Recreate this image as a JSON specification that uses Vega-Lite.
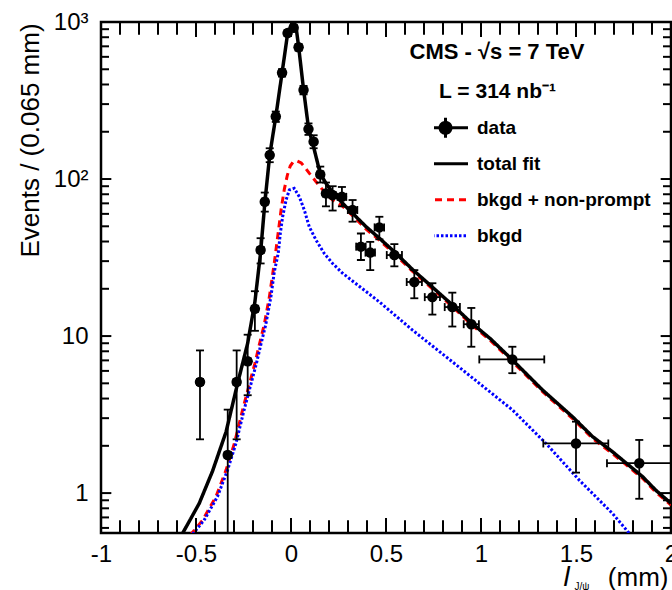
{
  "$schema": "https://vega.github.io/schema/vega-lite/v6.json",
  "width": 570,
  "height": 511,
  "autosize": "none",
  "padding": {"left": 101, "top": 22, "right": 1, "bottom": 57},
  "background": "white",
  "config": {
    "view": {"stroke": "black", "strokeWidth": 2.5},
    "axis": {"domain": false, "grid": false, "ticks": false, "labelFont": "Liberation Sans", "labelFontSize": 24, "labelColor": "black", "titleFont": "Liberation Sans", "titleFontWeight": "normal", "titleColor": "black", "labelFlush": false, "labelOverlap": false, "labelBound": false},
    "legend": {"orient": "none", "legendX": 333, "legendY": 88, "padding": 0, "labelFont": "Liberation Sans", "labelFontSize": 19, "labelFontWeight": "bold", "labelColor": "black", "labelLimit": 400, "symbolSize": 400, "symbolStrokeWidth": 3, "labelOffset": 20, "rowPadding": 0, "clipHeight": 35.7}
  },
  "datasets": {
    "xticks": [
      {"pos": -1, "kind": "xmajor"}, {"pos": -0.9, "kind": "xminor"}, {"pos": -0.8, "kind": "xminor"}, {"pos": -0.7, "kind": "xminor"}, {"pos": -0.6, "kind": "xminor"},
      {"pos": -0.5, "kind": "xmajor"}, {"pos": -0.4, "kind": "xminor"}, {"pos": -0.3, "kind": "xminor"}, {"pos": -0.2, "kind": "xminor"}, {"pos": -0.1, "kind": "xminor"},
      {"pos": 0, "kind": "xmajor"}, {"pos": 0.1, "kind": "xminor"}, {"pos": 0.2, "kind": "xminor"}, {"pos": 0.3, "kind": "xminor"}, {"pos": 0.4, "kind": "xminor"},
      {"pos": 0.5, "kind": "xmajor"}, {"pos": 0.6, "kind": "xminor"}, {"pos": 0.7, "kind": "xminor"}, {"pos": 0.8, "kind": "xminor"}, {"pos": 0.9, "kind": "xminor"},
      {"pos": 1, "kind": "xmajor"}, {"pos": 1.1, "kind": "xminor"}, {"pos": 1.2, "kind": "xminor"}, {"pos": 1.3, "kind": "xminor"}, {"pos": 1.4, "kind": "xminor"},
      {"pos": 1.5, "kind": "xmajor"}, {"pos": 1.6, "kind": "xminor"}, {"pos": 1.7, "kind": "xminor"}, {"pos": 1.8, "kind": "xminor"}, {"pos": 1.9, "kind": "xminor"},
      {"pos": 2, "kind": "xmajor"}
    ],
    "yticks": [
      {"pos": 0.6, "kind": "yminor"}, {"pos": 0.7, "kind": "yminor"}, {"pos": 0.8, "kind": "yminor"}, {"pos": 0.9, "kind": "yminor"},
      {"pos": 1, "kind": "ymajor"},
      {"pos": 2, "kind": "yminor"}, {"pos": 3, "kind": "yminor"}, {"pos": 4, "kind": "yminor"}, {"pos": 5, "kind": "yminor"}, {"pos": 6, "kind": "yminor"}, {"pos": 7, "kind": "yminor"}, {"pos": 8, "kind": "yminor"}, {"pos": 9, "kind": "yminor"},
      {"pos": 10, "kind": "ymajor"},
      {"pos": 20, "kind": "yminor"}, {"pos": 30, "kind": "yminor"}, {"pos": 40, "kind": "yminor"}, {"pos": 50, "kind": "yminor"}, {"pos": 60, "kind": "yminor"}, {"pos": 70, "kind": "yminor"}, {"pos": 80, "kind": "yminor"}, {"pos": 90, "kind": "yminor"},
      {"pos": 100, "kind": "ymajor"},
      {"pos": 200, "kind": "yminor"}, {"pos": 300, "kind": "yminor"}, {"pos": 400, "kind": "yminor"}, {"pos": 500, "kind": "yminor"}, {"pos": 600, "kind": "yminor"}, {"pos": 700, "kind": "yminor"}, {"pos": 800, "kind": "yminor"}, {"pos": 900, "kind": "yminor"},
      {"pos": 1000, "kind": "ymajor"}
    ],
    "curves": [
      {"series": "bkgd + non-prompt", "x": -0.56, "y": 0.46},
      {"series": "bkgd + non-prompt", "x": -0.53, "y": 0.54},
      {"series": "bkgd + non-prompt", "x": -0.466, "y": 0.67},
      {"series": "bkgd + non-prompt", "x": -0.395, "y": 0.95},
      {"series": "bkgd + non-prompt", "x": -0.342, "y": 1.4},
      {"series": "bkgd + non-prompt", "x": -0.298, "y": 2.07},
      {"series": "bkgd + non-prompt", "x": -0.255, "y": 3.38},
      {"series": "bkgd + non-prompt", "x": -0.19, "y": 6.7},
      {"series": "bkgd + non-prompt", "x": -0.165, "y": 9.0},
      {"series": "bkgd + non-prompt", "x": -0.141, "y": 11.8},
      {"series": "bkgd + non-prompt", "x": -0.114, "y": 17.7},
      {"series": "bkgd + non-prompt", "x": -0.088, "y": 29.2},
      {"series": "bkgd + non-prompt", "x": -0.067, "y": 45.9},
      {"series": "bkgd + non-prompt", "x": -0.051, "y": 65.3},
      {"series": "bkgd + non-prompt", "x": -0.035, "y": 86.3},
      {"series": "bkgd + non-prompt", "x": -0.019, "y": 106},
      {"series": "bkgd + non-prompt", "x": -0.004, "y": 121},
      {"series": "bkgd + non-prompt", "x": 0.012, "y": 129},
      {"series": "bkgd + non-prompt", "x": 0.033, "y": 130},
      {"series": "bkgd + non-prompt", "x": 0.054, "y": 126.5},
      {"series": "bkgd + non-prompt", "x": 0.075, "y": 118},
      {"series": "bkgd + non-prompt", "x": 0.096, "y": 109},
      {"series": "bkgd + non-prompt", "x": 0.132, "y": 96},
      {"series": "bkgd + non-prompt", "x": 0.175, "y": 83},
      {"series": "bkgd + non-prompt", "x": 0.219, "y": 73.5},
      {"series": "bkgd + non-prompt", "x": 0.272, "y": 67},
      {"series": "bkgd + non-prompt", "x": 0.324, "y": 58.5},
      {"series": "bkgd + non-prompt", "x": 0.395, "y": 48},
      {"series": "bkgd + non-prompt", "x": 0.465, "y": 40.8},
      {"series": "bkgd + non-prompt", "x": 0.544, "y": 33.4},
      {"series": "bkgd + non-prompt", "x": 0.64, "y": 25.8},
      {"series": "bkgd + non-prompt", "x": 0.744, "y": 20},
      {"series": "bkgd + non-prompt", "x": 0.849, "y": 15.4},
      {"series": "bkgd + non-prompt", "x": 0.947, "y": 11.9},
      {"series": "bkgd + non-prompt", "x": 1.05, "y": 9.35},
      {"series": "bkgd + non-prompt", "x": 1.166, "y": 6.85},
      {"series": "bkgd + non-prompt", "x": 1.324, "y": 4.42},
      {"series": "bkgd + non-prompt", "x": 1.482, "y": 2.98},
      {"series": "bkgd + non-prompt", "x": 1.587, "y": 2.23},
      {"series": "bkgd + non-prompt", "x": 1.693, "y": 1.78},
      {"series": "bkgd + non-prompt", "x": 1.851, "y": 1.24},
      {"series": "bkgd + non-prompt", "x": 1.921, "y": 1.01},
      {"series": "bkgd + non-prompt", "x": 2.0, "y": 0.84},
      {"series": "bkgd", "x": -0.552, "y": 0.46},
      {"series": "bkgd", "x": -0.522, "y": 0.54},
      {"series": "bkgd", "x": -0.458, "y": 0.67},
      {"series": "bkgd", "x": -0.387, "y": 0.95},
      {"series": "bkgd", "x": -0.334, "y": 1.4},
      {"series": "bkgd", "x": -0.29, "y": 2.07},
      {"series": "bkgd", "x": -0.247, "y": 3.38},
      {"series": "bkgd", "x": -0.182, "y": 6.7},
      {"series": "bkgd", "x": -0.157, "y": 9.0},
      {"series": "bkgd", "x": -0.133, "y": 11.8},
      {"series": "bkgd", "x": -0.106, "y": 17.7},
      {"series": "bkgd", "x": -0.088, "y": 25.6},
      {"series": "bkgd", "x": -0.067, "y": 33.8},
      {"series": "bkgd", "x": -0.056, "y": 45.3},
      {"series": "bkgd", "x": -0.044, "y": 57.5},
      {"series": "bkgd", "x": -0.026, "y": 73.5},
      {"series": "bkgd", "x": -0.009, "y": 85.1},
      {"series": "bkgd", "x": 0.017, "y": 87.3},
      {"series": "bkgd", "x": 0.044, "y": 77},
      {"series": "bkgd", "x": 0.07, "y": 63.5},
      {"series": "bkgd", "x": 0.096, "y": 49.7},
      {"series": "bkgd", "x": 0.132, "y": 40.8},
      {"series": "bkgd", "x": 0.175, "y": 33.6},
      {"series": "bkgd", "x": 0.219, "y": 29},
      {"series": "bkgd", "x": 0.272, "y": 25.1},
      {"series": "bkgd", "x": 0.316, "y": 22.8},
      {"series": "bkgd", "x": 0.465, "y": 16.5},
      {"series": "bkgd", "x": 0.64, "y": 10.9},
      {"series": "bkgd", "x": 0.816, "y": 7.38},
      {"series": "bkgd", "x": 0.991, "y": 5.0},
      {"series": "bkgd", "x": 1.166, "y": 3.38},
      {"series": "bkgd", "x": 1.342, "y": 2.07},
      {"series": "bkgd", "x": 1.517, "y": 1.21},
      {"series": "bkgd", "x": 1.693, "y": 0.74},
      {"series": "bkgd", "x": 1.781, "y": 0.553},
      {"series": "bkgd", "x": 1.82, "y": 0.48},
      {"series": "total fit", "x": -0.6, "y": 0.48},
      {"series": "total fit", "x": -0.571, "y": 0.553},
      {"series": "total fit", "x": -0.483, "y": 0.86},
      {"series": "total fit", "x": -0.413, "y": 1.38},
      {"series": "total fit", "x": -0.342, "y": 2.45},
      {"series": "total fit", "x": -0.281, "y": 5.0},
      {"series": "total fit", "x": -0.228, "y": 9.0},
      {"series": "total fit", "x": -0.19, "y": 16.5},
      {"series": "total fit", "x": -0.16, "y": 34},
      {"series": "total fit", "x": -0.138, "y": 70},
      {"series": "total fit", "x": -0.112, "y": 142},
      {"series": "total fit", "x": -0.08, "y": 250},
      {"series": "total fit", "x": -0.047, "y": 475},
      {"series": "total fit", "x": -0.018, "y": 840},
      {"series": "total fit", "x": 0.003, "y": 960},
      {"series": "total fit", "x": 0.014, "y": 985},
      {"series": "total fit", "x": 0.028, "y": 900},
      {"series": "total fit", "x": 0.04, "y": 700},
      {"series": "total fit", "x": 0.066, "y": 372},
      {"series": "total fit", "x": 0.092, "y": 212},
      {"series": "total fit", "x": 0.123, "y": 153},
      {"series": "total fit", "x": 0.154, "y": 108},
      {"series": "total fit", "x": 0.184, "y": 94},
      {"series": "total fit", "x": 0.219, "y": 82},
      {"series": "total fit", "x": 0.272, "y": 70},
      {"series": "total fit", "x": 0.324, "y": 60.5},
      {"series": "total fit", "x": 0.395, "y": 49.7},
      {"series": "total fit", "x": 0.465, "y": 42},
      {"series": "total fit", "x": 0.544, "y": 34.4},
      {"series": "total fit", "x": 0.64, "y": 26.5},
      {"series": "total fit", "x": 0.744, "y": 20.5},
      {"series": "total fit", "x": 0.849, "y": 15.8},
      {"series": "total fit", "x": 0.947, "y": 12.2},
      {"series": "total fit", "x": 1.05, "y": 9.6},
      {"series": "total fit", "x": 1.166, "y": 7.03},
      {"series": "total fit", "x": 1.324, "y": 4.53},
      {"series": "total fit", "x": 1.482, "y": 3.06},
      {"series": "total fit", "x": 1.587, "y": 2.29},
      {"series": "total fit", "x": 1.693, "y": 1.83},
      {"series": "total fit", "x": 1.851, "y": 1.27},
      {"series": "total fit", "x": 1.921, "y": 1.04},
      {"series": "total fit", "x": 2.0, "y": 0.86}
    ],
    "points": [
      {"x": -0.479, "y": 5.1, "ylo": 2.2, "yhi": 8.1, "xlo": -0.495, "xhi": -0.463},
      {"x": -0.333, "y": 1.75, "ylo": 0.3, "yhi": 3.4, "xlo": -0.349, "xhi": -0.317},
      {"x": -0.286, "y": 5.1, "ylo": 2.2, "yhi": 8.1, "xlo": -0.302, "xhi": -0.27},
      {"x": -0.228, "y": 6.9, "ylo": 4.2, "yhi": 10.2, "xlo": -0.244, "xhi": -0.212},
      {"x": -0.19, "y": 14.9, "ylo": 10.8, "yhi": 19.3, "xlo": -0.206, "xhi": -0.174},
      {"x": -0.16, "y": 35.3, "ylo": 29, "yhi": 42, "xlo": -0.176, "xhi": -0.144},
      {"x": -0.138, "y": 71.7, "ylo": 62, "yhi": 82, "xlo": -0.152, "xhi": -0.124},
      {"x": -0.112, "y": 142, "ylo": 128, "yhi": 157, "xlo": -0.126, "xhi": -0.098},
      {"x": -0.08, "y": 250, "ylo": 231, "yhi": 269, "xlo": -0.094, "xhi": -0.066},
      {"x": -0.047, "y": 475, "ylo": 449, "yhi": 501, "xlo": -0.061, "xhi": -0.033},
      {"x": -0.018, "y": 850, "ylo": 815, "yhi": 885, "xlo": -0.032, "xhi": -0.004},
      {"x": 0.014, "y": 920, "ylo": 884, "yhi": 956, "xlo": 0.0, "xhi": 0.028},
      {"x": 0.04, "y": 690, "ylo": 658, "yhi": 722, "xlo": 0.026, "xhi": 0.054},
      {"x": 0.066, "y": 369, "ylo": 346, "yhi": 392, "xlo": 0.052, "xhi": 0.08},
      {"x": 0.092, "y": 208, "ylo": 191, "yhi": 226, "xlo": 0.078, "xhi": 0.106},
      {"x": 0.119, "y": 173, "ylo": 157, "yhi": 190, "xlo": 0.105, "xhi": 0.133},
      {"x": 0.154, "y": 107, "ylo": 95, "yhi": 120, "xlo": 0.138, "xhi": 0.17},
      {"x": 0.184, "y": 81, "ylo": 67, "yhi": 95, "xlo": 0.168, "xhi": 0.2},
      {"x": 0.219, "y": 79, "ylo": 63, "yhi": 90, "xlo": 0.203, "xhi": 0.235},
      {"x": 0.268, "y": 77, "ylo": 67, "yhi": 89, "xlo": 0.245, "xhi": 0.291},
      {"x": 0.324, "y": 63.5, "ylo": 53.5, "yhi": 73.5, "xlo": 0.299, "xhi": 0.349},
      {"x": 0.368, "y": 37.1, "ylo": 30.5, "yhi": 45, "xlo": 0.343, "xhi": 0.393},
      {"x": 0.417, "y": 34, "ylo": 26.3, "yhi": 39.8, "xlo": 0.392, "xhi": 0.442},
      {"x": 0.465, "y": 49.2, "ylo": 41.3, "yhi": 57.5, "xlo": 0.44, "xhi": 0.49},
      {"x": 0.544, "y": 32.8, "ylo": 27.8, "yhi": 38.5, "xlo": 0.504, "xhi": 0.584},
      {"x": 0.649, "y": 22.1, "ylo": 17.4, "yhi": 26.3, "xlo": 0.609, "xhi": 0.689},
      {"x": 0.744, "y": 17.7, "ylo": 13.7, "yhi": 21.7, "xlo": 0.704, "xhi": 0.784},
      {"x": 0.849, "y": 15.3, "ylo": 11.5, "yhi": 18.9, "xlo": 0.809, "xhi": 0.889},
      {"x": 0.949, "y": 11.9, "ylo": 8.55, "yhi": 15.1, "xlo": 0.909, "xhi": 0.989},
      {"x": 1.165, "y": 7.1, "ylo": 5.8, "yhi": 8.55, "xlo": 0.991, "xhi": 1.333},
      {"x": 1.5, "y": 2.07, "ylo": 1.35, "yhi": 2.85, "xlo": 1.328, "xhi": 1.67},
      {"x": 1.833, "y": 1.55, "ylo": 0.92, "yhi": 2.18, "xlo": 1.663, "xhi": 2.1}
    ]
  },
  "resolve": {"axis": {"x": "independent", "y": "independent"}},
  "layer": [
    {
      "data": {"name": "curves"},
      "transform": [{"filter": "datum.series !== 'total fit'"}],
      "mark": {"type": "line", "strokeWidth": 3, "clip": true},
      "encoding": {
        "x": {"field": "x", "type": "quantitative", "scale": {"type": "linear", "domain": [-1, 2], "nice": false, "zero": false},
          "axis": {"orient": "bottom", "values": [-1, -0.5, 0, 0.5, 1, 1.5, 2], "ticks": false, "labelPadding": 9, "labelExpr": "'' + datum.value", "title": "(mm)", "titleX": 567, "titleY": 52, "titleAlign": "right", "titleBaseline": "alphabetic", "titleAngle": 0, "titleFontSize": 26}},
        "y": {"field": "y", "type": "quantitative", "scale": {"type": "log", "domain": [0.557, 1000], "nice": false},
          "axis": {"orient": "left", "values": [1, 10, 100, 1000], "ticks": false, "labelPadding": 13, "labelExpr": "datum.value >= 1000 ? '10³' : datum.value >= 100 ? '10²' : datum.value >= 10 ? '10' : '1'", "title": "Events / (0.065 mm)", "titleX": -71, "titleY": 118, "titleAlign": "center", "titleBaseline": "middle", "titleAngle": -90, "titleFontSize": 26}},
        "color": {"field": "series", "type": "nominal",
          "scale": {"domain": ["data", "total fit", "bkgd + non-prompt", "bkgd"], "range": ["black", "black", "#ff0000", "#0000ff"]},
          "legend": {"title": null}},
        "strokeDash": {"field": "series", "type": "nominal",
          "scale": {"domain": ["data", "total fit", "bkgd + non-prompt", "bkgd"], "range": [[1, 0], [1, 0], [7, 5], [2.5, 2]]},
          "legend": {"title": null}}
      }
    },
    {
      "data": {"name": "curves"},
      "transform": [{"filter": "datum.series === 'total fit'"}],
      "mark": {"type": "line", "strokeWidth": 3.5, "clip": true},
      "encoding": {
        "x": {"field": "x", "type": "quantitative", "scale": {"type": "linear", "domain": [-1, 2], "nice": false, "zero": false},
          "axis": {"orient": "bottom", "values": [0], "ticks": false, "labels": false, "title": "l", "titleX": 462, "titleY": 52, "titleFontStyle": "italic", "titleFontSize": 28, "titleAlign": "left", "titleBaseline": "alphabetic", "titleAngle": 0}},
        "y": {"field": "y", "type": "quantitative", "scale": {"type": "log", "domain": [0.557, 1000], "nice": false}, "axis": null},
        "color": {"field": "series", "type": "nominal", "scale": {"domain": ["data", "total fit", "bkgd + non-prompt", "bkgd"], "range": ["black", "black", "#ff0000", "#0000ff"]}, "legend": {"title": null}},
        "strokeDash": {"field": "series", "type": "nominal", "scale": {"domain": ["data", "total fit", "bkgd + non-prompt", "bkgd"], "range": [[1, 0], [1, 0], [7, 5], [2.5, 2]]}, "legend": {"title": null}}
      }
    },
    {
      "data": {"values": []},
      "mark": {"type": "point", "filled": true, "opacity": 1, "strokeWidth": 3},
      "encoding": {
        "color": {"field": "series", "type": "nominal", "scale": {"domain": ["data", "total fit", "bkgd + non-prompt", "bkgd"], "range": ["black", "black", "#ff0000", "#0000ff"]}, "legend": {"title": null}},
        "shape": {"field": "series", "type": "nominal", "scale": {"domain": ["data", "total fit", "bkgd + non-prompt", "bkgd"], "range": ["M-2.25,0H2.25M0,-1V1M0.55,0A0.55,0.55,0,1,1,-0.55,0A0.55,0.55,0,1,1,0.55,0Z", "M-2.25,0H2.25", "M-2.25,0H2.25", "M-2.25,0H2.25"]}, "legend": {"title": null}}
      }
    },
    {
      "data": {"name": "xticks"},
      "mark": {"type": "tick", "orient": "vertical", "thickness": 2, "color": "black", "opacity": 1, "clip": true},
      "encoding": {
        "x": {"field": "pos", "type": "quantitative", "scale": {"type": "linear", "domain": [-1, 2], "nice": false, "zero": false}, "axis": null},
        "y": {"datum": 0.557, "type": "quantitative", "scale": {"type": "log", "domain": [0.557, 1000], "nice": false}, "axis": null},
        "size": {"field": "kind", "type": "nominal", "scale": {"domain": ["xmajor", "xminor", "ymajor", "yminor"], "range": [30, 16, 34, 20]}, "legend": null}
      }
    },
    {
      "data": {"name": "xticks"},
      "mark": {"type": "tick", "orient": "vertical", "thickness": 2, "color": "black", "opacity": 1, "clip": true},
      "encoding": {
        "x": {"field": "pos", "type": "quantitative", "scale": {"type": "linear", "domain": [-1, 2], "nice": false, "zero": false}, "axis": null},
        "y": {"datum": 1000, "type": "quantitative", "scale": {"type": "log", "domain": [0.557, 1000], "nice": false}, "axis": null},
        "size": {"field": "kind", "type": "nominal", "scale": {"domain": ["xmajor", "xminor", "ymajor", "yminor"], "range": [30, 16, 34, 20]}, "legend": null}
      }
    },
    {
      "data": {"name": "yticks"},
      "mark": {"type": "tick", "orient": "horizontal", "thickness": 2, "color": "black", "opacity": 1, "clip": true},
      "encoding": {
        "x": {"datum": -1, "type": "quantitative", "scale": {"type": "linear", "domain": [-1, 2], "nice": false, "zero": false}, "axis": null},
        "y": {"field": "pos", "type": "quantitative", "scale": {"type": "log", "domain": [0.557, 1000], "nice": false}, "axis": null},
        "size": {"field": "kind", "type": "nominal", "scale": {"domain": ["xmajor", "xminor", "ymajor", "yminor"], "range": [30, 16, 34, 20]}, "legend": null}
      }
    },
    {
      "data": {"name": "yticks"},
      "mark": {"type": "tick", "orient": "horizontal", "thickness": 2, "color": "black", "opacity": 1, "clip": true},
      "encoding": {
        "x": {"datum": 2, "type": "quantitative", "scale": {"type": "linear", "domain": [-1, 2], "nice": false, "zero": false}, "axis": null},
        "y": {"field": "pos", "type": "quantitative", "scale": {"type": "log", "domain": [0.557, 1000], "nice": false}, "axis": null},
        "size": {"field": "kind", "type": "nominal", "scale": {"domain": ["xmajor", "xminor", "ymajor", "yminor"], "range": [30, 16, 34, 20]}, "legend": null}
      }
    },
    {
      "data": {"name": "points"},
      "mark": {"type": "rule", "strokeWidth": 1.8, "color": "black", "clip": true},
      "encoding": {
        "x": {"field": "x", "type": "quantitative", "scale": {"type": "linear", "domain": [-1, 2], "nice": false, "zero": false},
          "axis": {"orient": "bottom", "values": [0], "ticks": false, "labels": false, "title": "J/ψ", "titleX": 473, "titleY": 56, "titleFontSize": 10, "titleAlign": "left", "titleBaseline": "alphabetic", "titleAngle": 0}},
        "y": {"field": "ylo", "type": "quantitative", "scale": {"type": "log", "domain": [0.557, 1000], "nice": false}, "axis": null},
        "y2": {"field": "yhi"}
      }
    },
    {
      "data": {"name": "points"},
      "mark": {"type": "rule", "strokeWidth": 1.8, "color": "black", "clip": true},
      "encoding": {
        "x": {"field": "xlo", "type": "quantitative", "scale": {"type": "linear", "domain": [-1, 2], "nice": false, "zero": false}, "axis": null},
        "x2": {"field": "xhi"},
        "y": {"field": "y", "type": "quantitative", "scale": {"type": "log", "domain": [0.557, 1000], "nice": false}, "axis": null}
      }
    },
    {
      "data": {"name": "points"},
      "mark": {"type": "tick", "orient": "horizontal", "size": 8, "thickness": 1.8, "color": "black", "opacity": 1, "clip": true},
      "encoding": {
        "x": {"field": "x", "type": "quantitative", "scale": {"type": "linear", "domain": [-1, 2], "nice": false, "zero": false}, "axis": null},
        "y": {"field": "ylo", "type": "quantitative", "scale": {"type": "log", "domain": [0.557, 1000], "nice": false}, "axis": null}
      }
    },
    {
      "data": {"name": "points"},
      "mark": {"type": "tick", "orient": "horizontal", "size": 8, "thickness": 1.8, "color": "black", "opacity": 1, "clip": true},
      "encoding": {
        "x": {"field": "x", "type": "quantitative", "scale": {"type": "linear", "domain": [-1, 2], "nice": false, "zero": false}, "axis": null},
        "y": {"field": "yhi", "type": "quantitative", "scale": {"type": "log", "domain": [0.557, 1000], "nice": false}, "axis": null}
      }
    },
    {
      "data": {"name": "points"},
      "mark": {"type": "tick", "orient": "vertical", "size": 8, "thickness": 1.8, "color": "black", "opacity": 1, "clip": true},
      "encoding": {
        "x": {"field": "xlo", "type": "quantitative", "scale": {"type": "linear", "domain": [-1, 2], "nice": false, "zero": false}, "axis": null},
        "y": {"field": "y", "type": "quantitative", "scale": {"type": "log", "domain": [0.557, 1000], "nice": false}, "axis": null}
      }
    },
    {
      "data": {"name": "points"},
      "mark": {"type": "tick", "orient": "vertical", "size": 8, "thickness": 1.8, "color": "black", "opacity": 1, "clip": true},
      "encoding": {
        "x": {"field": "xhi", "type": "quantitative", "scale": {"type": "linear", "domain": [-1, 2], "nice": false, "zero": false}, "axis": null},
        "y": {"field": "y", "type": "quantitative", "scale": {"type": "log", "domain": [0.557, 1000], "nice": false}, "axis": null}
      }
    },
    {
      "data": {"name": "points"},
      "mark": {"type": "point", "shape": "circle", "filled": true, "size": 110, "color": "black", "opacity": 1, "clip": true},
      "encoding": {
        "x": {"field": "x", "type": "quantitative", "scale": {"type": "linear", "domain": [-1, 2], "nice": false, "zero": false}, "axis": null},
        "y": {"field": "y", "type": "quantitative", "scale": {"type": "log", "domain": [0.557, 1000], "nice": false}, "axis": null}
      }
    },
    {
      "data": {"values": [{"label": "CMS - √s = 7 TeV"}]},
      "mark": {"type": "text", "font": "Liberation Sans", "fontSize": 22, "fontWeight": "bold", "align": "center", "baseline": "middle", "color": "black"},
      "encoding": {
        "x": {"datum": 1.084, "type": "quantitative", "scale": {"type": "linear", "domain": [-1, 2], "nice": false, "zero": false}, "axis": null},
        "y": {"datum": 644, "type": "quantitative", "scale": {"type": "log", "domain": [0.557, 1000], "nice": false}, "axis": null},
        "text": {"field": "label"}
      }
    },
    {
      "data": {"values": [{"label": "L = 314 nb⁻¹"}]},
      "mark": {"type": "text", "font": "Liberation Sans", "fontSize": 21, "fontWeight": "bold", "align": "center", "baseline": "middle", "color": "black"},
      "encoding": {
        "x": {"datum": 1.087, "type": "quantitative", "scale": {"type": "linear", "domain": [-1, 2], "nice": false, "zero": false}, "axis": null},
        "y": {"datum": 359, "type": "quantitative", "scale": {"type": "log", "domain": [0.557, 1000], "nice": false}, "axis": null},
        "text": {"field": "label"}
      }
    }
  ]
}
